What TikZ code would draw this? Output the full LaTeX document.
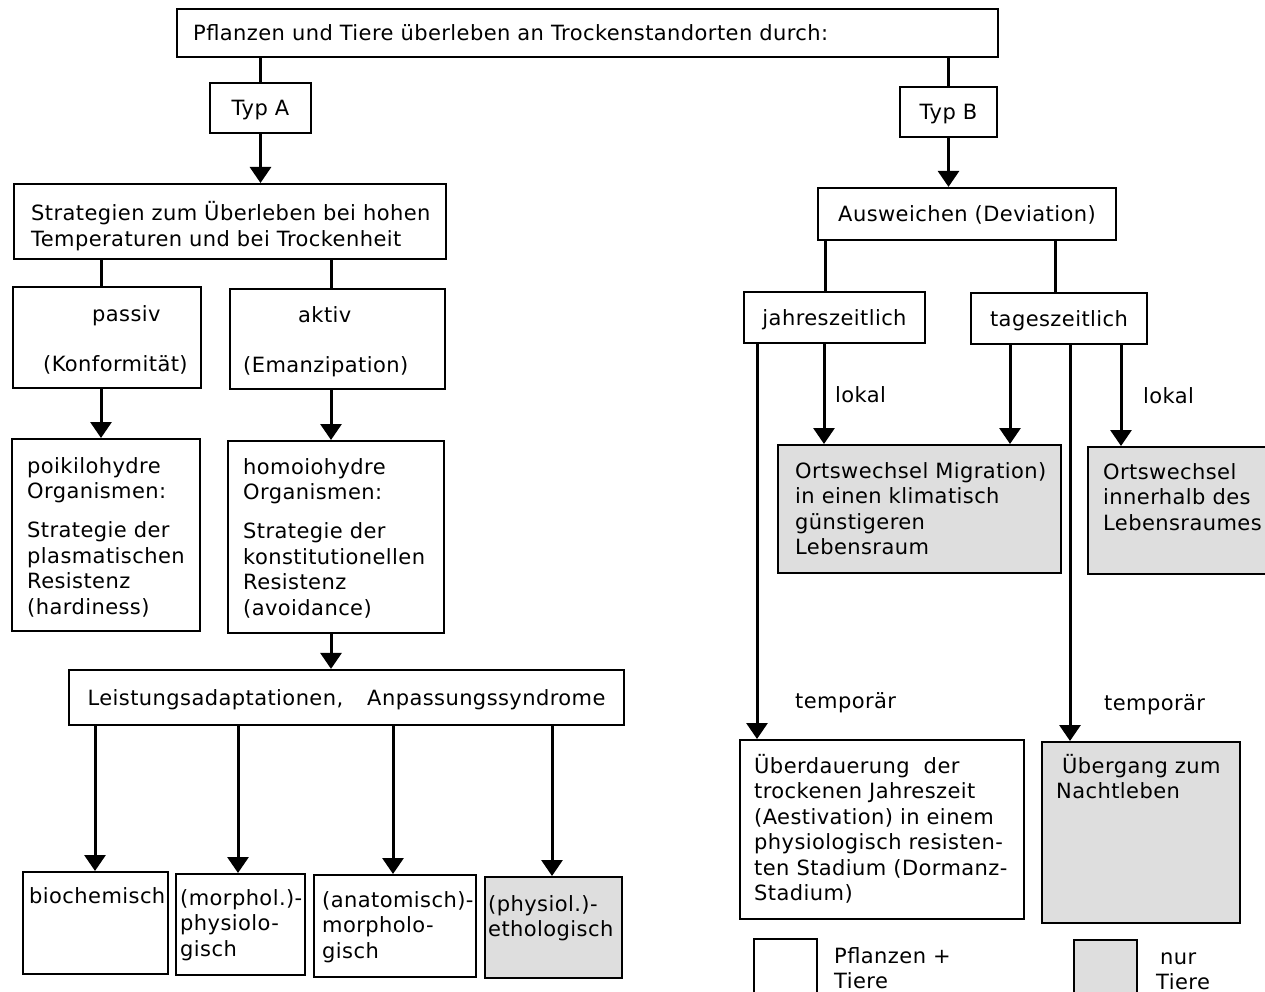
\documentclass[tikz,border=0pt]{standalone}
\usepackage{fontspec}
\setmainfont{DejaVu Sans}[LetterSpace=2]
\usetikzlibrary{arrows.meta}
\newcommand\diagfont{\fontsize{21}{25.5}\selectfont}
% \panel{name}{x1}{y1}{x2}{y2}{style}: a rectangle given by its corners
\newcommand\panel[6]{%
  \node[#6, minimum width={(#4)-(#2)}, minimum height={(#5)-(#3)}] (#1) at (#2,#3) {};}
\tikzset{
  frame/.style={draw, line width=2.2pt, inner sep=0pt, anchor=north west, fill=white},
  tinted/.style={frame, fill=black!13},
  tag/.style={draw, line width=2.2pt, inner sep=0pt, fill=white, font=\diagfont,
              text height=15pt, text depth=0pt},
  link/.style={line width=3pt},
  flow/.style={link, -{Triangle[width=21pt,length=16pt]}},
  words/.style={inner sep=0pt, anchor=base west, align=left, text width=800pt, font=\diagfont},
}
\begin{document}
\begin{tikzpicture}[x=1pt,y=-1pt]
\fill[white] (0,0) rectangle (1265,992);
\useasboundingbox (0,0) rectangle (1265,992);

% ---------- boxes ----------
\panel{top}{176}{8}{997}{56}{frame}
\node[tag, minimum width=101pt, minimum height=50pt] (typA) at (260.5,108) {Typ A};
\node[tag, minimum width=97pt, minimum height=50pt] (typB) at (948.5,112) {Typ B};
\panel{strat}{13}{183}{445}{258}{frame}
\node[tag, minimum width=298pt, minimum height=52pt] (ausw) at (967,214) {Ausweichen (Deviation)};
\panel{passiv}{12}{286}{200}{387}{frame}
\panel{aktiv}{229}{288}{444}{388}{frame}
\node[tag, minimum width=181pt, minimum height=51pt] (jahr) at (834.5,317.5) {jahreszeitlich};
\node[tag, minimum width=176pt, minimum height=51pt] (tages) at (1059,318.5) {tageszeitlich};
\panel{poik}{11}{438}{199}{630}{frame}
\panel{homo}{227}{440}{443}{632}{frame}
\panel{mig}{777}{444}{1060}{572}{tinted}
\panel{inn}{1087}{446}{1275}{573}{tinted}
\node[tag, minimum width=555pt, minimum height=55pt] (leist) at (346.5,697.5)
  {Leistungsadaptationen,\hspace{24pt}Anpassungssyndrome};
\panel{bio}{22}{871}{167}{973}{frame}
\panel{morph}{175}{873}{304}{974}{frame}
\panel{anat}{313}{874}{475}{976}{frame}
\panel{phys}{484}{876}{621}{977}{tinted}
\panel{uberd}{739}{739}{1023}{918}{frame}
\panel{uberg}{1041}{741}{1239}{922}{tinted}
\panel{keyA}{753}{938}{816}{1000}{frame}
\panel{keyB}{1073}{939}{1136}{1000}{tinted}

% ---------- columns of the connectors ----------
\coordinate (xA1) at (101,0);
\coordinate (xA2) at (331,0);
\coordinate (xL1) at (95,0);
\coordinate (xL2) at (238,0);
\coordinate (xL3) at (393,0);
\coordinate (xL4) at (552,0);
\coordinate (xB1) at (825,0);
\coordinate (xB2) at (1055,0);
\coordinate (xJ1) at (757,0);
\coordinate (xJ2) at (824,0);
\coordinate (xT1) at (1010,0);
\coordinate (xT2) at (1070,0);
\coordinate (xT3) at (1121,0);

% ---------- connectors ----------
\draw[link] (top.south -| typA.north) -- (typA.north);
\draw[flow] (typA.south) -- (typA.south |- strat.north);
\draw[link] (top.south -| typB.north) -- (typB.north);
\draw[flow] (typB.south) -- (typB.south |- ausw.north);

\draw[link] (strat.south -| xA1) -- (passiv.north -| xA1);
\draw[link] (strat.south -| xA2) -- (aktiv.north -| xA2);
\draw[flow] (passiv.south -| xA1) -- (poik.north -| xA1);
\draw[flow] (aktiv.south -| xA2) -- (homo.north -| xA2);
\draw[flow] (homo.south -| xA2) -- (leist.north -| xA2);
\draw[flow] (leist.south -| xL1) -- (bio.north -| xL1);
\draw[flow] (leist.south -| xL2) -- (morph.north -| xL2);
\draw[flow] (leist.south -| xL3) -- (anat.north -| xL3);
\draw[flow] (leist.south -| xL4) -- (phys.north -| xL4);

\draw[link] (ausw.south -| xB1) -- (jahr.north -| xB1);
\draw[link] (ausw.south -| xB2) -- (tages.north -| xB2);
\draw[flow] (jahr.south -| xJ1) -- (uberd.north -| xJ1);
\draw[flow] (jahr.south -| xJ2) -- (mig.north -| xJ2);
\draw[flow] (tages.south -| xT1) -- (mig.north -| xT1);
\draw[flow] (tages.south -| xT2) -- (uberg.north -| xT2);
\draw[flow] (tages.south -| xT3) -- (inn.north -| xT3);

% ---------- texts ----------
\node[words] (tTop) at (193,41) {Pflanzen und Tiere überleben an Trockenstandorten durch:};
\node[words] (tStrat) at (31,221) {Strategien zum Überleben bei hohen\\Temperaturen und bei Trockenheit};
\node[words] (tPas1) at (92,321) {passiv};
\node[words] (tPas2) at (43,371) {(Konformität)};
\node[words] (tAkt1) at (298,322) {aktiv};
\node[words] (tAkt2) at (243,372) {(Emanzipation)};
\node[words] (tPoik) at (27,473) {poikilohydre\\Organismen:\\[13.5pt]Strategie der\\plasmatischen\\Resistenz\\(hardiness)};
\node[words] (tHomo) at (243,474) {homoiohydre\\Organismen:\\[13.5pt]Strategie der\\konstitutionellen\\Resistenz\\(avoidance)};
\node[words] (tBio) at (29,903) {biochemisch};
\node[words] (tMorph) at (180,905) {(morphol.)-\\physiolo-\\gisch};
\node[words] (tAnat) at (322,907) {(anatomisch)-\\morpholo-\\gisch};
\node[words] (tPhys) at (488,911) {(physiol.)-\\ethologisch};

\node[words] (tLok1) at (835,402) {lokal};
\node[words] (tLok2) at (1143,403) {lokal};
\node[words] (tMig) at (795,478) {Ortswechsel Migration)\\in einen klimatisch\\günstigeren\\Lebensraum};
\node[words] (tInn) at (1103,479) {Ortswechsel\\innerhalb des\\Lebensraumes};
\node[words] (tTmp1) at (795,708) {temporär};
\node[words] (tTmp2) at (1104,710) {temporär};
\node[words] (tUberd) at (754,773) {Überdauerung\hspace{14pt}der\\trockenen Jahreszeit\\(Aestivation) in einem\\physiologisch resisten-\\ten Stadium (Dormanz-\\Stadium)};
\node[words] (tUberg) at (1056,773) {\hspace*{6pt}Übergang zum\\Nachtleben};
\node[words] (tKeyA) at (834,963) {Pflanzen +\\Tiere};
\node[words] (tKeyB) at (1156,964) {\hspace*{4pt}nur\\Tiere};
\end{tikzpicture}
\end{document}
